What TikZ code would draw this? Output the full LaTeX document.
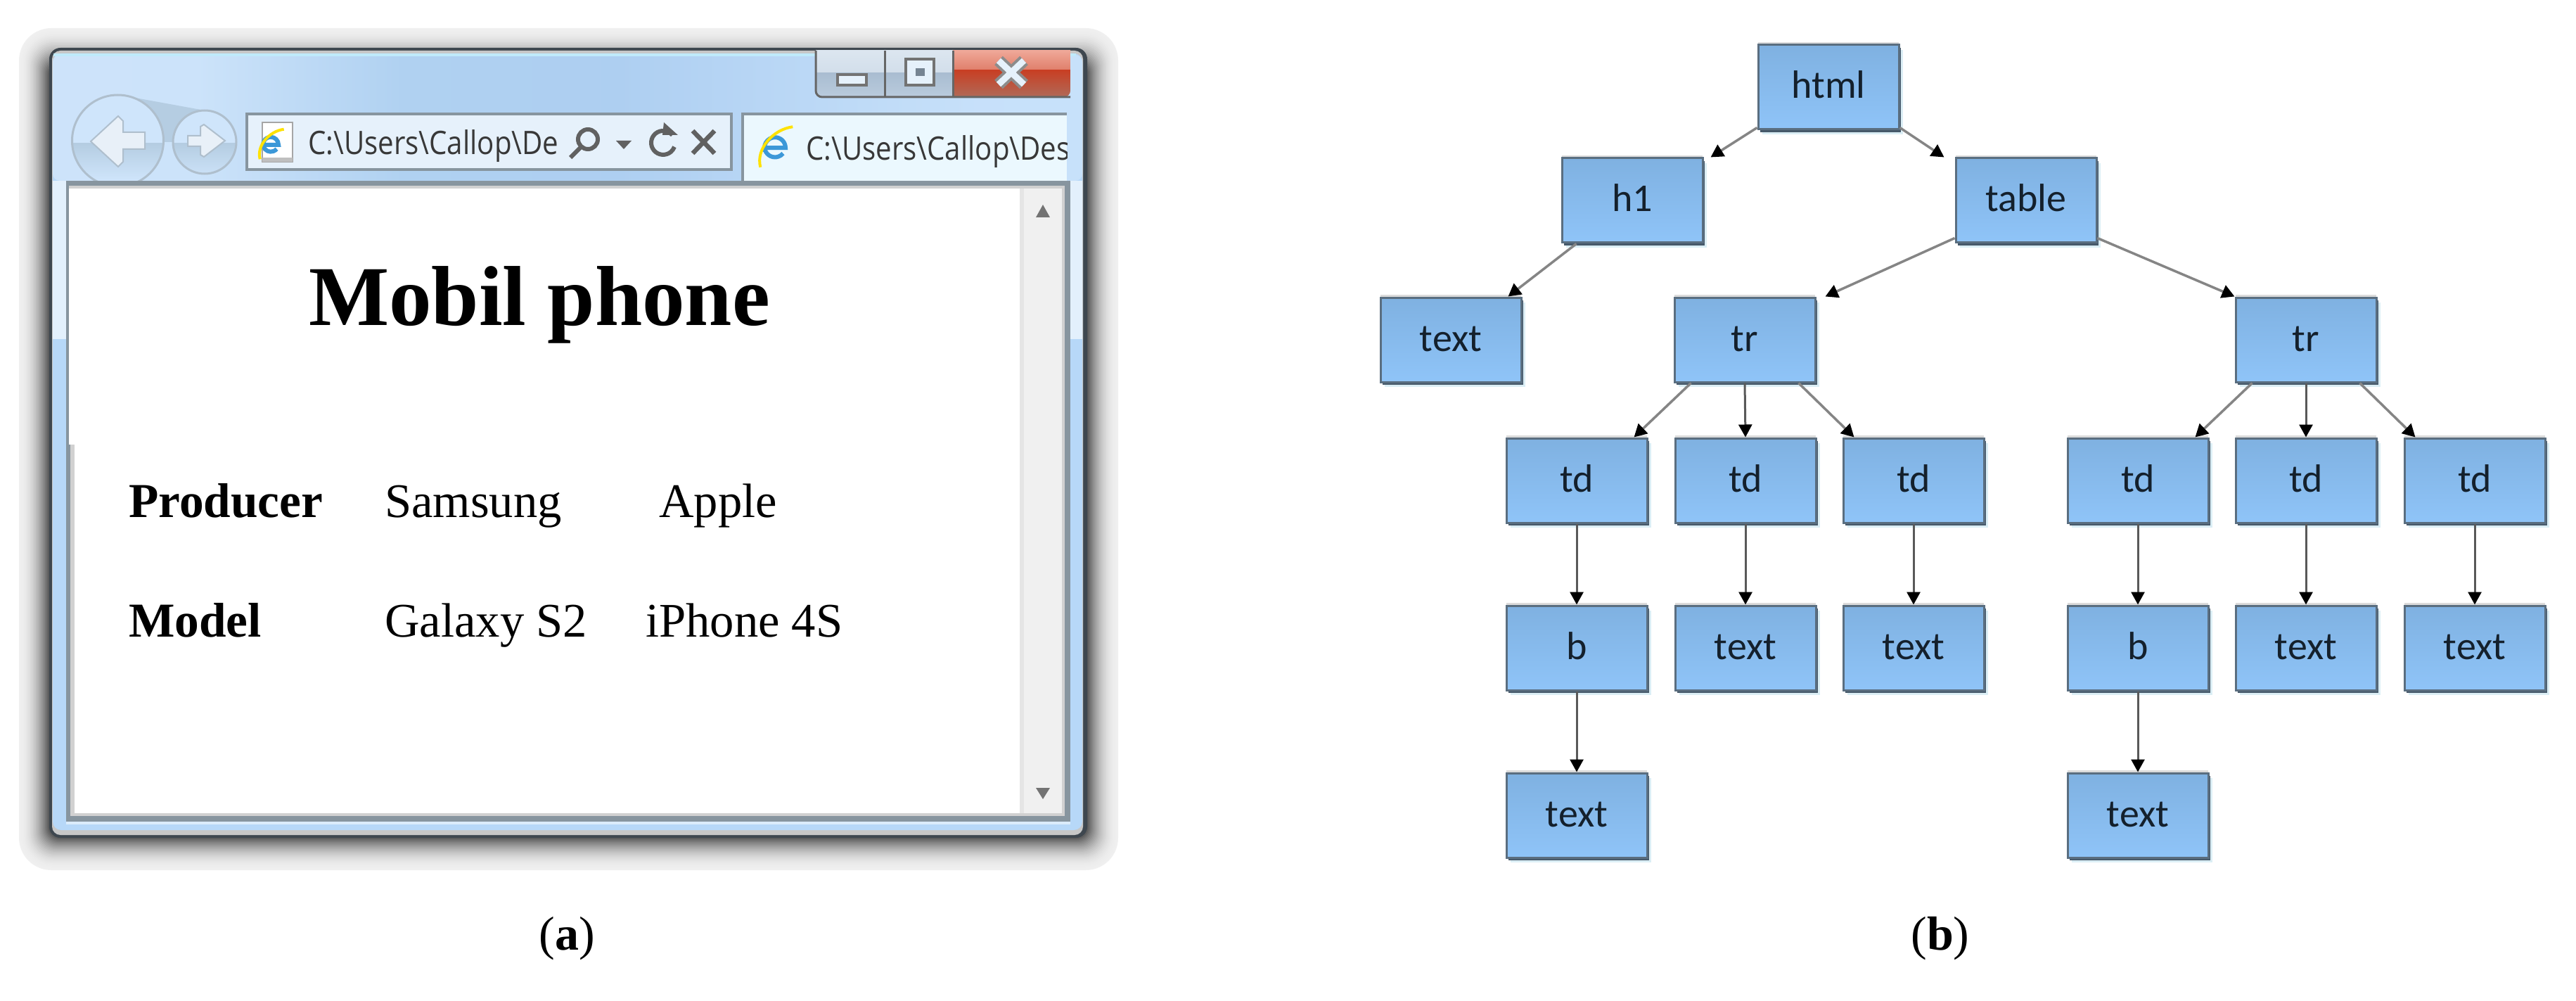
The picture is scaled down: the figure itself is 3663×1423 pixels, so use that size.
\documentclass[tikz,border=0pt]{standalone}
\usepackage{fontspec}
\setmainfont{Liberation Serif}
\newfontfamily\treefont{Carlito}
\newfontfamily\uifont[FakeStretch=0.875]{Open Sans}
\usetikzlibrary{arrows.meta}
\definecolor{boxline}{HTML}{5A6E80}
\definecolor{boxdark}{HTML}{46596A}
\definecolor{boxtop}{HTML}{7FB1E1}
\definecolor{boxbot}{HTML}{8FC4F8}
\definecolor{boxtext}{HTML}{14202C}
\definecolor{framedark}{HTML}{3E474F}
\definecolor{frameblue}{HTML}{B7D8F8}
\definecolor{framelight}{HTML}{E3F0FC}
\definecolor{bordergray}{HTML}{87959F}
\definecolor{ietop}{HTML}{3C98D8}
\definecolor{navback}{HTML}{CFE5FB}
\definecolor{navdark}{HTML}{B5CDE2}
\definecolor{navline}{HTML}{AFBFCD}
\definecolor{navarrow}{HTML}{E8F0F8}
\definecolor{addrfill}{HTML}{E6F1FB}
\definecolor{btntop}{HTML}{DCE6F0}
\definecolor{btnmid}{HTML}{A9BDD1}
\definecolor{btnbot}{HTML}{BACBDD}
\definecolor{closetop}{HTML}{EFA898}
\definecolor{closemid}{HTML}{C83F24}
\definecolor{closebot}{HTML}{B06A58}
\pgfdeclarehorizontalshading{titlebar}{100bp}{
  rgb(0bp)=(0.82,0.90,0.985);
  rgb(32bp)=(0.80,0.89,0.98);
  rgb(42bp)=(0.69,0.82,0.945);
  rgb(52bp)=(0.68,0.81,0.945);
  rgb(70bp)=(0.78,0.88,0.98);
  rgb(100bp)=(0.79,0.89,0.985)}
\tikzset{
  x=1pt,y=-1pt,
  treebox/.style={rectangle,minimum width=200pt,minimum height=120pt,inner sep=0pt,
    draw=boxline,line width=3pt,top color=boxtop,bottom color=boxbot,
    text=boxtext,text height=39pt,text depth=7pt,
    font=\treefont\fontsize{56pt}{60pt}\selectfont,
    preaction={fill=black!14,draw=none,transform canvas={yshift=4pt}},
    preaction={fill=black!25!cyan!15!white,draw=none,transform canvas={xshift=6pt,yshift=-7pt}},
    preaction={fill=boxdark,draw=none,transform canvas={xshift=3pt,yshift=-4pt}}},
  slant/.style={draw=black!48,line width=3.5pt,-{Triangle[length=18pt,width=19pt,black]}},
  straight/.style={draw=black!65,line width=3pt,-{Triangle[length=18pt,width=19pt,black]}},
  pagetext/.style={anchor=base west,inner sep=0pt,font=\fontsize{68.6pt}{70pt}\selectfont},
  pagebold/.style={pagetext,font=\bfseries\fontsize{69.3pt}{70pt}\selectfont},
  uitext/.style={anchor=base west,inner sep=0pt,text=black!78,font=\uifont\fontsize{46pt}{50pt}\selectfont},
  caption/.style={anchor=base,inner sep=0pt,font=\fontsize{68pt}{70pt}\selectfont},
  glyph/.style={draw=black!62,line width=6pt},
  navring/.style={draw=navline,line width=3pt}
}
\newcommand{\ielogo}[3]{%
  \begin{scope}[shift={(#1,#2)},scale=#3]
    \draw[ietop,line width=6pt] (-13,1) -- (13,1) arc (0:-200:13) ;
    \draw[ietop,line width=6pt] (-12.2,4) arc (-200:-320:13);
    \draw[yellow!85!orange,line width=4pt] (-18,25) .. controls (-24,2) and (-2,-22) .. (22,-25);
  \end{scope}}
\begin{document}
\begin{tikzpicture}
\useasboundingbox (0,0) rectangle (3663,1423);
\fill[white] (0,0) rectangle (3663,1423);

% --- window shadow
\foreach \i in {0,...,23}{
  \pgfmathsetmacro\pct{6+62*(\i/23)*(\i/23)}
  \pgfmathsetmacro\xa{27+1.85*\i}
  \pgfmathsetmacro\ya{40+2.2*\i}
  \pgfmathsetmacro\xb{1590-1.9*\i}
  \pgfmathsetmacro\yb{1237-2*\i}
  \pgfmathsetmacro\rad{46-1.3*\i}
  \fill[black!\pct!white,rounded corners=\rad pt] (\xa,\ya) rectangle (\xb,\yb);
}

% --- window frame
\fill[framedark,rounded corners=16pt] (70,68) rectangle (1546,1191);
\fill[black!22,rounded corners=12pt] (74,72) rectangle (1540,1187);
\fill[frameblue,rounded corners=12pt] (75,76) rectangle (1539,1180);
\fill[framelight] (75,257) rectangle (94,482);
\fill[framelight] (1522,257) rectangle (1539,482);
\shade[shading=titlebar,rounded corners=10pt] (75,78) rectangle (1539,257);
\fill[white!75!cyan] (76,76) rectangle (1530,80);

% --- content area
\fill[bordergray] (94,257) rectangle (1522,1168);
\fill[black!18] (98,264) rectangle (1514,1160);
\fill[white] (98,268) rectangle (1510,1156);
\fill[bordergray] (98,632) rectangle (100,1160);
\fill[black!18] (100,632) rectangle (106,1160);
\fill[white] (106,632) rectangle (1450,1156);
\fill[frameblue!50!white] (94,1168) rectangle (1522,1172);

% scrollbar
\fill[black!6] (1450,268) rectangle (1510,1156);
\fill[black!10] (1450,268) rectangle (1456,1156);
\fill[black!55] (1473,309) -- (1493,309) -- (1483,291) -- cycle;
\fill[black!55] (1473,1120) -- (1493,1120) -- (1483,1136) -- cycle;

% --- title bar buttons
\begin{scope}
  \clip[rounded corners=9pt] (1160,60) rectangle (1522,138);
  \shade[top color=btntop,bottom color=btntop!80!btnmid] (1160,72) rectangle (1355,104);
  \shade[top color=btnmid,bottom color=btnbot] (1160,104) rectangle (1355,138);
  \shade[top color=closetop,bottom color=closetop!60!closemid] (1355,72) rectangle (1522,100);
  \shade[top color=closemid,bottom color=closebot] (1355,100) rectangle (1522,138);
\end{scope}
\draw[black!60,line width=3pt,rounded corners=9pt] (1160,72) -- (1160,138) -- (1522,138);
\draw[black!60,line width=3pt] (1258,72) -- (1258,138) (1355,72) -- (1355,138);
\fill[addrfill,draw=black!55,line width=4pt] (1191,106) rectangle (1232,121);
\fill[addrfill,draw=black!55,line width=4pt] (1288,84) rectangle (1328,121);
\fill[btnmid!70!black,draw=addrfill,line width=5pt] (1299,95) rectangle (1317,111);
\draw[black!45,line width=17pt] (1420,86) -- (1456,120) (1456,86) -- (1420,120);
\draw[addrfill,line width=9pt] (1420,86) -- (1456,120) (1456,86) -- (1420,120);

% --- navigation buttons
\begin{scope}
  \clip (90,120) rectangle (348,257);
  \fill[navdark] (170,135) -- (291,157) -- (291,202) -- (170,202) -- cycle;
  \fill[navback] (167.5,200) circle [radius=65];
  \fill[navback] (291,202) circle [radius=45];
  \begin{scope}
    \clip (167.5,200) circle [radius=65] (291,202) circle [radius=45];
    \shade[top color=navdark,bottom color=navback] (100,204) rectangle (340,257);
  \end{scope}
  \draw[navring] (167.5,200) circle [radius=65];
  \draw[navring] (291,202) circle [radius=45];
  \fill[navarrow,draw=navline,line width=2pt] (129,201) -- (168,165) -- (175,172) -- (175,188) -- (206,188) -- (206,212) -- (175,212) -- (175,230) -- (168,237) -- cycle;
  \fill[navarrow,draw=navline,line width=2pt] (320,200) -- (290,177) -- (285,180) -- (285,193) -- (267,193) -- (267,208) -- (285,208) -- (285,220) -- (290,223) -- cycle;
\end{scope}

% --- address bar
\fill[addrfill,draw=bordergray,line width=4pt] (351,162) rectangle (1040,241);
\fill[white,draw=black!35,line width=2pt] (373,174) rectangle (416,230);
\fill[black!25] (373,224) rectangle (416,230);
\ielogo{385}{205}{0.85}
\node[uitext] (addr) at (438,220) {C:\textbackslash Users\textbackslash Callop\textbackslash De};
\draw[glyph] (836,198) circle [radius=14] (826,209) -- (811,224);
\fill[black!62] (876,200) -- (898,200) -- (887,212) -- cycle;
\draw[glyph] (956,192) arc (-40:-340:17);
\fill[black!62] (944,174) -- (964,192) -- (942,192) -- cycle;
\draw[glyph,line width=6.5pt] (985,186) -- (1016,218) (1016,186) -- (985,218);

% --- tab
\fill[white!92!cyan] (1056,160) rectangle (1517,257);
\draw[bordergray,line width=4pt] (1056,257) -- (1056,162) -- (1517,162);
\ielogo{1102}{209}{1.15}
\begin{scope}
  \clip (1140,165) rectangle (1517,255);
  \node[uitext] (tabtext) at (1146,228) {C:\textbackslash Users\textbackslash Callop\textbackslash Des};
\end{scope}

% --- page text
\node[pagetext,font=\bfseries\fontsize{121pt}{125pt}\selectfont] (heading) at (439,462) {Mobil phone};
\node[pagebold] (producer) at (183,735) {Producer};
\node[pagetext] (samsung) at (547,735) {Samsung};
\node[pagetext] (apple) at (937,735) {Apple};
\node[pagebold] (model) at (183,905) {Model};
\node[pagetext] (galaxy) at (547,905) {Galaxy S2};
\node[pagetext] (iphone) at (918,905) {iPhone 4S};
\node[caption] (capa) at (806,1350) {(\textbf{a})};
\node[caption] (capb) at (2759,1350) {(\textbf{b})};

% --- tree
\node[treebox] (html) at (2600,124) {html};
\node[treebox] (h1) at (2321,285) {h1};
\node[treebox] (table) at (2881,285) {table};
\node[treebox] (t0) at (2063,483) {text};
\node[treebox] (tr1) at (2481,483) {tr};
\node[treebox] (tr2) at (3279,483) {tr};
\node[treebox] (td1) at (2242,683) {td};
\node[treebox] (td2) at (2482,683) {td};
\node[treebox] (td3) at (2721,683) {td};
\node[treebox] (td4) at (3040,683) {td};
\node[treebox] (td5) at (3279,683) {td};
\node[treebox] (td6) at (3519,683) {td};
\node[treebox] (b1) at (2242,921) {b};
\node[treebox] (t2) at (2482,921) {text};
\node[treebox] (t3) at (2721,921) {text};
\node[treebox] (b2) at (3040,921) {b};
\node[treebox] (t5) at (3279,921) {text};
\node[treebox] (t6) at (3519,921) {text};
\node[treebox] (t1) at (2242,1159) {text};
\node[treebox] (t4) at (3040,1159) {text};

\draw[slant] ([shift={(0,-4)}]html.south west) -- ([shift={(10,0)}]h1.north east);
\draw[slant] ([shift={(0,-4)}]html.south east) -- ([shift={(-15,0)}]table.north west);
\draw[slant] ([shift={(22,0)}]h1.south west) -- ([shift={(-20,0)}]t0.north east);
\draw[slant] ([shift={(0,-8)}]table.south west) -- ([shift={(13,0)}]tr1.north east);
\draw[slant] ([shift={(0,-8)}]table.south east) -- ([shift={(0,0)}]tr2.north west);
\draw[slant] ([shift={(25,0)}]tr1.south west) -- ([shift={(-20,0)}]td1.north east);
\draw[straight] (tr1.south) -- (td2.north);
\draw[slant] ([shift={(-25,0)}]tr1.south east) -- ([shift={(17,0)}]td3.north west);
\draw[slant] ([shift={(25,0)}]tr2.south west) -- ([shift={(-20,0)}]td4.north east);
\draw[straight] (tr2.south) -- (td5.north);
\draw[slant] ([shift={(-25,0)}]tr2.south east) -- ([shift={(17,0)}]td6.north west);
\draw[straight] (td1) -- (b1);
\draw[straight] (td2) -- (t2);
\draw[straight] (td3) -- (t3);
\draw[straight] (td4) -- (b2);
\draw[straight] (td5) -- (t5);
\draw[straight] (td6) -- (t6);
\draw[straight] (b1) -- (t1);
\draw[straight] (b2) -- (t4);
\end{tikzpicture}
\end{document}
